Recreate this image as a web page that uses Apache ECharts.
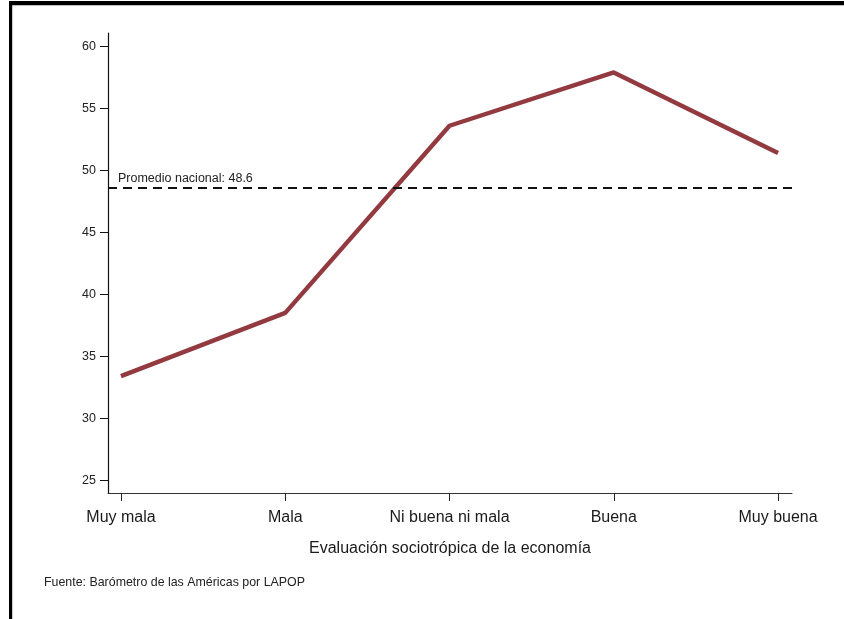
<!DOCTYPE html>
<html>
<head>
<meta charset="utf-8">
<script src="https://cdn.jsdelivr.net/npm/echarts@6/dist/echarts.min.js"></script>
<style>
html,body{margin:0;padding:0;background:#fff;}
#chart{width:844px;height:619px;}
</style>
</head>
<body>
<div id="chart"></div>
<script>
var categories = ["Muy mala", "Mala", "Ni buena ni mala", "Buena", "Muy buena"];
var values = [33.4, 38.5, 53.6, 57.9, 51.4];
var yTicks = [25, 30, 35, 40, 45, 50, 55, 60];
var nationalMean = 48.6;
var xTitle = "Evaluación sociotrópica de la economía";
var sourceNote = "Fuente: Barómetro de las Américas por LAPOP";

var FONT = "'Liberation Sans', Arial, Helvetica, sans-serif";
var chart = echarts.init(document.getElementById('chart'), null, {renderer: 'canvas'});

var points = values.map(function (v, i) { return [i, v]; });
var xIdx = categories.map(function (c, i) { return i; });

chart.setOption({
  animation: false,
  backgroundColor: '#ffffff',
  textStyle: {fontFamily: FONT},
  grid: {left: 108, right: 52, top: 33, bottom: 126},
  xAxis: {
    type: 'value',
    min: -0.079,
    max: 4.085,
    splitLine: {show: false},
    axisLine: {show: true, onZero: false, lineStyle: {color: '#333', width: 1}},
    axisTick: {show: true, inside: false, length: 8, customValues: xIdx, lineStyle: {color: '#222', width: 1}},
    axisLabel: {
      customValues: xIdx,
      fontSize: 16, color: '#1a1a1a', fontFamily: FONT, margin: 17,
      formatter: function (v) { return categories[Math.round(v)]; }
    },
    name: xTitle,
    nameLocation: 'middle',
    nameGap: 48,
    nameTextStyle: {fontSize: 16, color: '#1a1a1a', fontFamily: FONT}
  },
  yAxis: {
    type: 'value',
    min: 23.97,
    max: 61.08,
    splitLine: {show: false},
    axisLine: {show: true, onZero: false, lineStyle: {color: '#111', width: 1.2}},
    axisTick: {show: true, inside: false, length: 8, customValues: yTicks, lineStyle: {color: '#111', width: 1}},
    axisLabel: {customValues: yTicks, fontSize: 12.5, color: '#222', fontFamily: FONT, margin: 12}
  },
  series: [{
    type: 'line',
    data: points,
    symbol: 'none',
    lineStyle: {color: '#923A40', width: 4.4},
    z: 3,
    markLine: {
      silent: true,
      symbol: 'none',
      lineStyle: {color: '#111', width: 2, type: [9, 6]},
      label: {
        show: true,
        position: 'insideStartTop',
        distance: [10, 3],
        formatter: 'Promedio nacional: ' + nationalMean,
        fontSize: 12.5, color: '#222', fontFamily: FONT
      },
      data: [{yAxis: nationalMean}]
    }
  }],
  graphic: [
    {type: 'rect', shape: {x: 9, y: 1, width: 835, height: 4.3}, style: {fill: '#000'}, silent: true},
    {type: 'rect', shape: {x: 9, y: 1, width: 3.2, height: 618}, style: {fill: '#000'}, silent: true},
    {type: 'text', left: 44, top: 577, silent: true,
     style: {text: sourceNote, fontSize: 12.4, fill: '#222', fontFamily: FONT}}
  ]
});
</script>
</body>
</html>
